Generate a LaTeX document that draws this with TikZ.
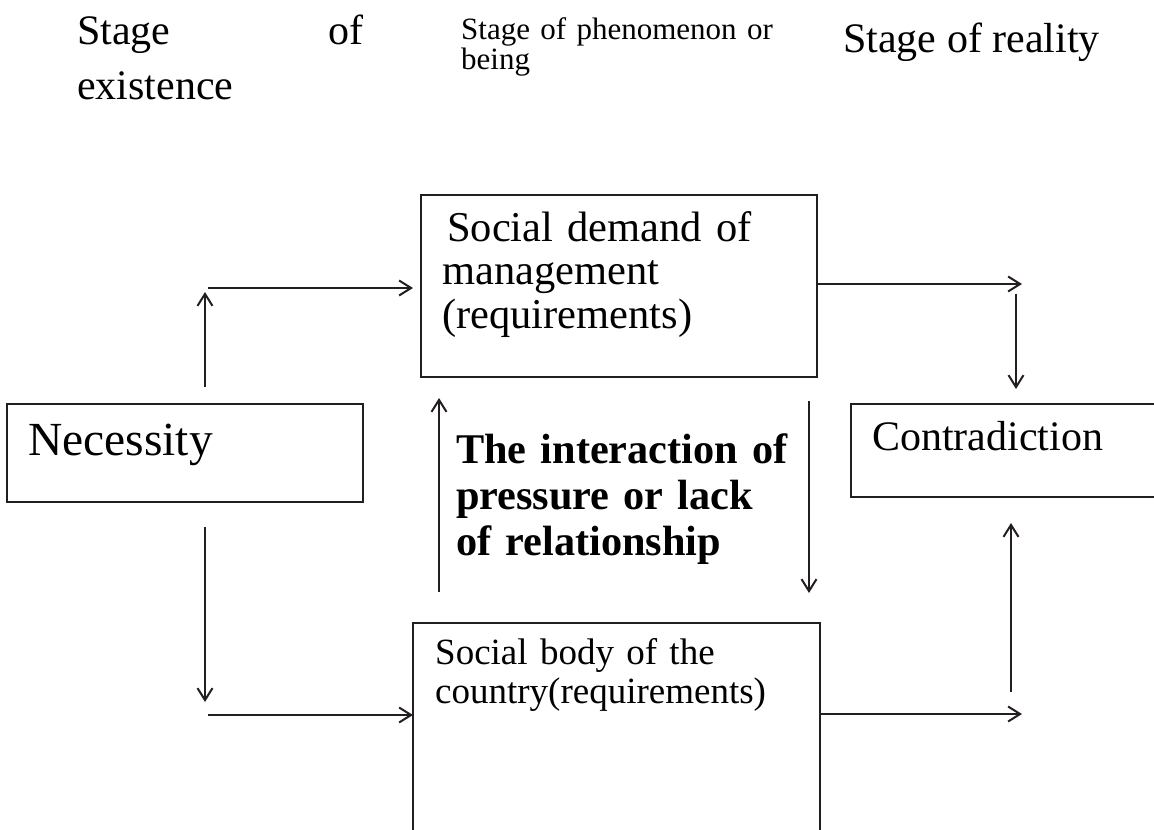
\documentclass[tikz,border=0pt]{standalone}
\usepackage{fontspec}
\setmainfont{Liberation Serif}
\usetikzlibrary{arrows.meta}
\definecolor{ink}{RGB}{35,31,32}

\begin{document}
\begin{tikzpicture}[x=1pt,y=-1pt,
  box/.style={draw=ink,line width=1.4pt,inner sep=0pt},
  lbl/.style={inner sep=0pt,anchor=base west,text=black},
  para/.style={lbl,align=left,text width=#1},
  conn/.style={draw=ink,line width=2pt,-{Straight Barb[length=12pt,width=15pt]}}]

\useasboundingbox (0,0) rectangle (1154,830);
\clip (0,0) rectangle (1154,830);

% column headings
\node[para=300pt,font=\fontsize{42}{55}\selectfont] (hExist) at (77,44)
  {\makebox[286pt][l]{Stage\hfill of}\\existence};
\node[para=340pt,font=\fontsize{31}{30}\selectfont] (hPhen) at (461,39)
  {Stage of phenomenon or\\being};
\node[lbl,font=\fontsize{42}{50}\selectfont] (hReal) at (843,52) {Stage of reality};

% boxes
\node[box,minimum width=356pt,minimum height=98pt] (nec) at (185,453) {};
\node[box,minimum width=396pt,minimum height=182pt] (demand) at (619,286) {};
\node[box,minimum width=407pt,minimum height=227pt] (body) at (616.5,736.5) {};
\node[box,minimum width=324pt,minimum height=93pt] (contra) at (1013,450.5) {};

% box texts
\node[lbl,font=\fontsize{47.5}{50}\selectfont] (necT) at (28,455) {Necessity};
\node[para=380pt,font=\fontsize{42.5}{43.5}\selectfont] (demandT) at (442,241)
  {\hspace*{5pt}Social demand of\\management\\(requirements)};
\node[para=390pt,font=\fontsize{37}{39}\selectfont] (bodyT) at (435,664)
  {Social body of the\\country(requirements)};
\node[lbl,font=\fontsize{42}{50}\selectfont] (contraT) at (872,450) {Contradiction};
\node[para=360pt,font=\bfseries\fontsize{42.3}{46}\selectfont] (inter) at (456,463)
  {The interaction of\\pressure or lack\\of relationship};

% connector end points
\coordinate (p1a) at (205,387);  \coordinate (p1b) at (205,292);
\coordinate (p2a) at (208,288);  \coordinate (p2b) at (413,288);
\coordinate (p3a) at (205,527);  \coordinate (p3b) at (205,702);
\coordinate (p4a) at (208,715);  \coordinate (p4b) at (413,715);
\coordinate (p5a) at (439,592);  \coordinate (p5b) at (439,398);
\coordinate (p6a) at (809,401);  \coordinate (p6b) at (809,593);
\coordinate (p7a) at (817,284);  \coordinate (p7b) at (1022,284);
\coordinate (p8a) at (1016,294); \coordinate (p8b) at (1016,389);
\coordinate (p9a) at (1011,692); \coordinate (p9b) at (1011,523);
\coordinate (p10a) at (820,714); \coordinate (p10b) at (1022,714);

% connectors
\draw[conn] (p1a) -- (p1b);
\draw[conn] (p2a) -- (p2b);
\draw[conn] (p3a) -- (p3b);
\draw[conn] (p4a) -- (p4b);
\draw[conn] (p5a) -- (p5b);
\draw[conn] (p6a) -- (p6b);
\draw[conn] (p7a) -- (p7b);
\draw[conn] (p8a) -- (p8b);
\draw[conn] (p9a) -- (p9b);
\draw[conn] (p10a) -- (p10b);
\end{tikzpicture}
\end{document}
